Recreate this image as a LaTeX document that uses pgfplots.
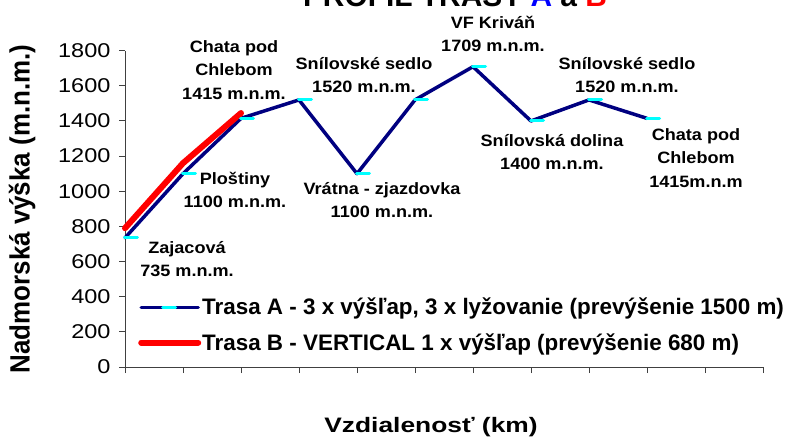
\documentclass[border=0pt]{standalone}
\usepackage{pgfplots}
\pgfplotsset{compat=1.18}
\usepackage{fontspec}
\setmainfont{Liberation Sans}
\newfontfamily\tickfont[FakeStretch=1.18]{Liberation Sans}
\newfontfamily\labfont[FakeStretch=1.1]{Liberation Sans}
\newfontfamily\xtfont[FakeStretch=1.26]{Liberation Sans}
\newfontfamily\ytfont[FakeStretch=0.93]{Liberation Sans}
\definecolor{navyA}{RGB}{0,0,128}
\definecolor{cyanM}{RGB}{0,255,255}
\definecolor{redB}{RGB}{255,0,0}
\definecolor{blueT}{RGB}{0,0,255}
\begin{document}
\begin{tikzpicture}
\useasboundingbox (0,0) rectangle (793bp,-440bp);
\begin{axis}[
  at={(125bp,-367bp)}, anchor=south west,
  scale only axis, width=638bp, height=316.3bp,
  xmin=0, xmax=11, ymin=0, ymax=1800,
  axis x line=bottom, axis y line=left,
  axis line style={-, black!75, line width=1bp},
  xtick={0,1,...,11}, xticklabels={},
  ytick={0,200,...,1800},
  tick align=outside, major tick length=6bp,
  tick style={black!75, line width=1bp},
  /pgf/number format/assume math mode=true,
  /pgf/number format/1000 sep={},
  yticklabel style={font=\tickfont\fontsize{20}{24}\selectfont, anchor=east, xshift=-5bp},
  clip=false,
  legend style={at={(0.0204,0.133)}, anchor=west, draw=none, fill=none, inner sep=0pt,
    font=\bfseries\fontsize{22.5}{27}\selectfont, row sep=15bp,
    nodes={inner sep=1bp}},
  legend cell align=left,
  legend image code/.code={\draw[mark repeat=2,mark phase=2,#1] plot coordinates {(0bp,0bp) (22bp,0bp) (57bp,0bp)};},
]
\addplot[navyA, line width=3.5bp, line cap=round, line join=round,
  mark=-, mark size=6.5bp, mark options={cyanM, line width=3bp, xshift=6bp}]
  coordinates {(0,735) (1,1100) (2,1415) (3,1520) (4,1100) (5,1520) (6,1709) (7,1400) (8,1520) (9,1415)};
\addlegendentry{Trasa A - 3 x výšľap, 3 x lyžovanie (prevýšenie 1500 m)}
\addplot[redB, line width=6bp, line cap=round, line join=round]
  coordinates {(0,790) (1,1160) (2,1445)};
\addlegendentry{Trasa B - VERTICAL 1 x výšľap (prevýšenie 680 m)}
\end{axis}
\begin{scope}[x=1bp,y=-1bp]
\tikzset{lab/.style={align=center, inner sep=0pt, font=\labfont\bfseries\fontsize{16.5}{23.5}\selectfont}}
\node[lab] at (234,70) {Chata pod\\Chlebom\\1415 m.n.m.};
\node[lab] at (364,75) {Snílovské sedlo\\1520 m.n.m.};
\node[lab] at (235,190) {Ploštiny\\1100 m.n.m.};
\node[lab] at (382,200) {Vrátna - zjazdovka\\1100 m.n.m.};
\node[lab] at (493,34) {VF Kriváň\\1709 m.n.m.};
\node[lab] at (627,75) {Snílovské sedlo\\1520 m.n.m.};
\node[lab] at (552,152) {Snílovská dolina\\1400 m.n.m.};
\node[lab] at (696,158) {Chata pod\\Chlebom\\1415m.n.m};
\node[lab] at (187,259) {Zajacová\\735 m.n.m.};
\node[rotate=90, inner sep=0pt, font=\ytfont\bfseries\fontsize{28}{32}\selectfont] at (22,209) {Nadmorská výška (m.n.m.)};
\node[inner sep=0pt, font=\xtfont\bfseries\fontsize{21}{25}\selectfont] at (431,427) {Vzdialenosť (km)};
\node[anchor=base, inner sep=0pt, font=\bfseries\fontsize{30}{34}\selectfont] at (455,6) {PROFIL TRASY \textcolor{blueT}{A} a \textcolor{redB}{B}};
\end{scope}
\end{tikzpicture}
\end{document}
